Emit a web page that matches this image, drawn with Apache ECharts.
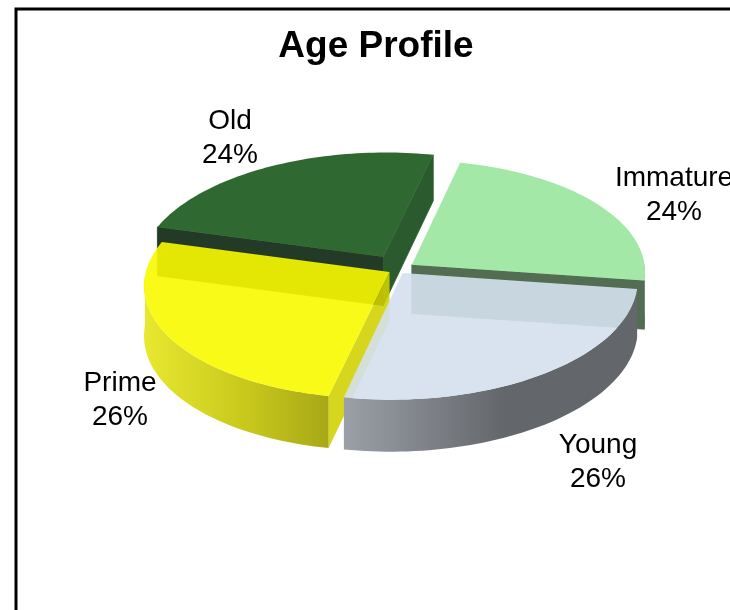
<!DOCTYPE html>
<html>
<head>
<meta charset="utf-8">
<style>
    html, body { margin: 0; padding: 0; background: #fff; }
    #mains { width: 730px; height: 610px; }
</style>
</head>
<body>
<div id="mains"></div>
<script src="https://cdn.jsdelivr.net/npm/echarts@6/dist/echarts.min.js"></script>
<script>
    var categories = ['Immature', 'Young', 'Prime', 'Old'];
    var shares = [24, 26, 26, 24];

    // pie geometry: flattened circle seen from the front, with a bit of perspective
    var center = [395, 266];
    var axisX = [232, 23];
    var axisY = [-54, 112];
    var perspective = 0.09;
    var explode = 0.065;
    var depth = 49;
    var nudge = [[4, 3], [-1, 1], [8, 2], [-4, -3]];

    var topColors = ['#a4e8a8', 'rgb(212,224,237)', 'rgb(249,249,0)', '#306832'];
    var topOpacity = [1, 0.91, 0.9, 1];
    var wallColors = ['#526d52', '#9ba0a8', '#d0d000', '#2a5a2e'];
    var frontWallColors = ['#526d52', '#9ba0a8', '#d0d000', '#233a26'];
    var wallOpacity = [1, 1, 0.88, 1];
    var rimStops = [
        ['#526d52', '#526d52', '#526d52'],
        ['#9ba0a8', '#63666a', '#63666a'],
        ['#e8e830', '#c8c81c', '#a8a818'],
        ['#2a5a2e', '#2a5a2e', '#2a5a2e']
    ];
    var labelPos = [[674, 195], [598, 462], [120, 400], [230, 138]];

    function project(x, y, down, shift) {
        var s = 1 / (1 - perspective * y);
        return [
            center[0] + shift[0] + s * (x * axisX[0] + y * axisY[0]),
            center[1] + shift[1] + s * (x * axisX[1] + y * axisY[1]) + (down ? depth * (1 + 0.06 * y) : 0)
        ];
    }

    function cross(a, b) {
        return a[0] * b[1] - a[1] * b[0];
    }

    function renderSlice(params, api) {
        var i = params.dataIndex;
        var total = shares.reduce(function (a, b) { return a + b; }, 0);
        var before = shares.slice(0, i).reduce(function (a, b) { return a + b; }, 0);
        var start = -90 + before / total * 360;
        var end = start + api.value(0) / total * 360;
        var mid = (start + end) / 2 * Math.PI / 180;
        var ax = explode * Math.cos(mid);
        var ay = explode * Math.sin(mid);
        var layer = Math.sin(mid) > 0 ? 10 : 0;
        var shift = nudge[i];

        function rim(deg, down) {
            var t = deg * Math.PI / 180;
            return project(ax + Math.cos(t), ay + Math.sin(t), down, shift);
        }

        var apex = project(ax, ay, false, shift);
        var apexDown = project(ax, ay, true, shift);
        var topPoints = [apex];
        var rimVisible = [];
        for (var k = 0; k <= 60; k++) {
            var d = start + (end - start) * k / 60;
            topPoints.push(rim(d));
            var t = d * Math.PI / 180;
            // rim is seen only where the outside of the curve faces down the screen
            var tangent = [
                -Math.sin(t) * axisX[0] + Math.cos(t) * axisY[0],
                -Math.sin(t) * axisX[1] + Math.cos(t) * axisY[1]
            ];
            var radial = [
                Math.cos(t) * axisX[0] + Math.sin(t) * axisY[0],
                Math.cos(t) * axisX[1] + Math.sin(t) * axisY[1]
            ];
            if (cross(tangent, [0, 1]) * cross(tangent, radial) > 0) {
                rimVisible.push(d);
            }
        }
        var children = [];

        // straight side walls
        [[start, end, frontWallColors[i]], [end, start, wallColors[i]]].forEach(function (side) {
            var p = rim(side[0]);
            var q = rim(side[1]);
            var v = [p[0] - apex[0], p[1] - apex[1]];
            var w = [q[0] - apex[0], q[1] - apex[1]];
            if (cross(v, [0, 1]) * cross(v, w) < 0) {
                children.push({
                    type: 'polygon',
                    z2: layer + 1,
                    shape: { points: [apex, p, rim(side[0], true), apexDown] },
                    style: {
                        fill: side[2],
                        opacity: wallOpacity[i],
                        stroke: wallOpacity[i] === 1 ? side[2] : null,
                        lineWidth: 0.8
                    }
                });
            }
        });

        // outer wall
        if (rimVisible.length > 1) {
            var upper = rimVisible.map(function (deg) { return rim(deg); });
            var lower = rimVisible.map(function (deg) { return rim(deg, true); }).reverse();
            children.push({
                type: 'polygon',
                z2: layer + 2,
                shape: { points: upper.concat(lower) },
                style: {
                    fill: new echarts.graphic.LinearGradient(0, 0, 1, 0, [
                        { offset: 0, color: rimStops[i][0] },
                        { offset: 0.55, color: rimStops[i][1] },
                        { offset: 1, color: rimStops[i][2] }
                    ])
                }
            });
        }

        // top face
        children.push({
            type: 'polygon',
            z2: layer + 3,
            shape: { points: topPoints },
            style: { fill: topColors[i], opacity: topOpacity[i] }
        });

        children.push({
            type: 'text',
            z2: 30,
            style: {
                text: categories[i] + '\n' + api.value(0) + '%',
                x: labelPos[i][0],
                y: labelPos[i][1],
                align: 'center',
                verticalAlign: 'middle',
                fill: '#000',
                font: '28px "Liberation Sans"',
                lineHeight: 34
            }
        });

        return { type: 'group', children: children };
    }

    var myChart = echarts.init(document.getElementById('mains'));
    myChart.setOption({
        animation: false,
        title: {
            text: 'Age Profile',
            left: 371,
            top: 23,
            textAlign: 'center',
            textStyle: {
                fontFamily: 'Liberation Sans',
                fontSize: 37,
                fontWeight: 'bold',
                color: '#000'
            }
        },
        graphic: [{
            type: 'rect',
            shape: { x: 16, y: 9, width: 900, height: 800 },
            style: { fill: 'none', stroke: '#000', lineWidth: 3 },
            silent: true
        }],
        series: [{
            type: 'custom',
            coordinateSystem: 'none',
            renderItem: renderSlice,
            data: shares
        }]
    });
</script>
</body>
</html>
